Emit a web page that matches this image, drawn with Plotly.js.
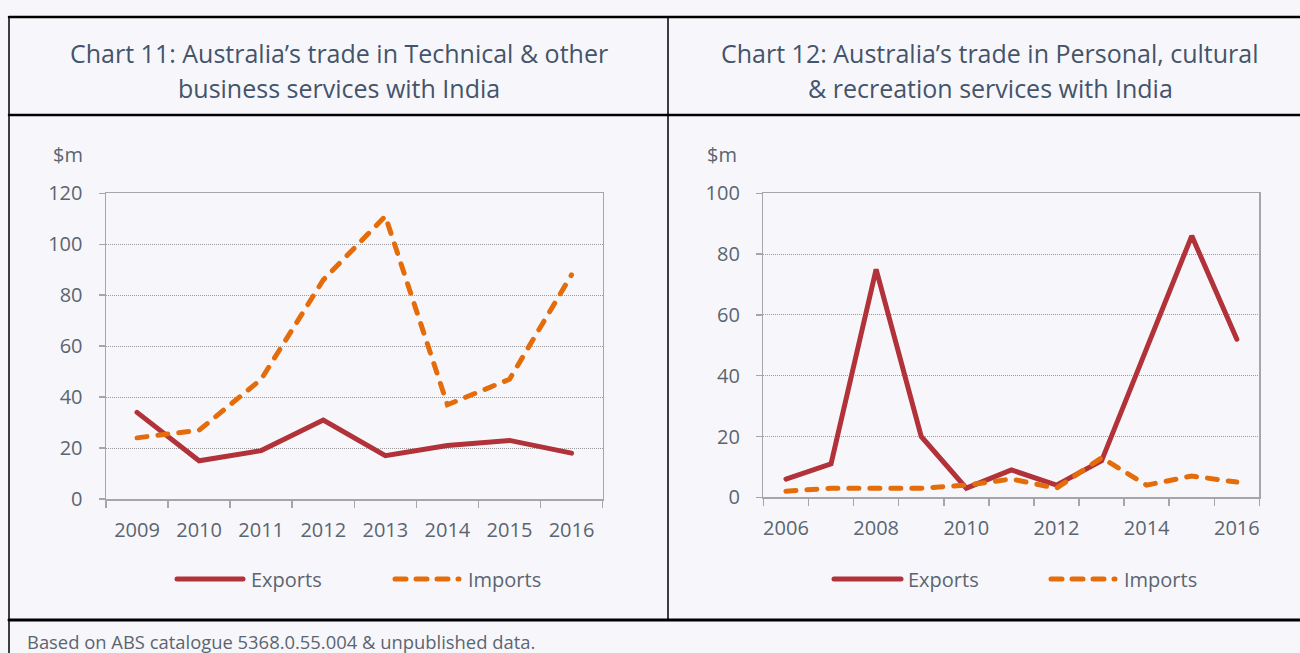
<!DOCTYPE html>
<html>
<head>
<meta charset="utf-8">
<script src="https://cdn.plot.ly/plotly-3.0.1.min.js"></script>
<style>
  html, body { margin: 0; padding: 0; background: #f7f7fb; }
  #chart { width: 1300px; height: 653px; }
  .scatterlayer .js-line { stroke-linecap: round !important; }
  .shapelayer path { stroke-linecap: round !important; }
</style>
</head>
<body>
<div id="chart"></div>
<script>
// ---- Data ----
const years11 = [2009, 2010, 2011, 2012, 2013, 2014, 2015, 2016];
const exports11 = [34, 15, 19, 31, 17, 21, 23, 18];
const imports11 = [24, 27, 47, 86, 111, 37, 47, 88];

const years12 = [2006, 2007, 2008, 2009, 2010, 2011, 2012, 2013, 2014, 2015, 2016];
const exports12 = [6, 11, 75, 20, 3, 9, 4, 12, 49, 86, 52];
const imports12 = [2, 3, 3, 3, 4, 6, 3, 13, 4, 7, 5];

const ticks11 = [2009, 2010, 2011, 2012, 2013, 2014, 2015, 2016];
const ticks12 = [2006, 2008, 2010, 2012, 2014, 2016];

const title11 = ["Chart 11: Australia\u2019s trade in Technical & other", "business services with India"];
const title12 = ["Chart 12: Australia\u2019s trade in Personal, cultural", "& recreation services with India"];
const seriesNames = ["Exports", "Imports"];
const footnote = "Based on ABS catalogue 5368.0.55.004 & unpublished data.";

// ---- Style ----
const W = 1300, H = 653;
const FONT = "Open Sans, sans-serif";
const TXT = "#5b6570";
const TITLE = "#44546a";
const RED = "#b13238";
const ORANGE = "#e46c0a";
const AXIS = "#a6a6a6";
const GRID = "#9a9a9a";

const px = x => x / W;
const py = y => 1 - y / H;

const traces = [
  { x: years11, y: exports11, name: seriesNames[0], xaxis: "x", yaxis: "y", mode: "lines",
    line: { color: RED, width: 5 } },
  { x: years11, y: imports11, name: seriesNames[1], xaxis: "x", yaxis: "y", mode: "lines",
    line: { color: ORANGE, width: 5, dash: "10px,11px" } },
  { x: years12, y: exports12, name: seriesNames[0], xaxis: "x2", yaxis: "y2", mode: "lines",
    line: { color: RED, width: 5 } },
  { x: years12, y: imports12, name: seriesNames[1], xaxis: "x2", yaxis: "y2", mode: "lines",
    line: { color: ORANGE, width: 5, dash: "10px,11px" } }
];

function xAxis(domain, range, tickvals, anchor) {
  return {
    domain: domain, range: range, anchor: anchor, type: "linear",
    tickmode: "array", tickvals: tickvals, ticktext: tickvals.map(String),
    ticks: "", showgrid: false, zeroline: false,
    showline: true, linecolor: AXIS, linewidth: 1.5, mirror: true,
    tickfont: { family: FONT, size: 20, color: TXT },
    ticklabelstandoff: 12,
    minor: { ticks: "outside", tick0: range[0], dtick: 1, ticklen: 7, tickwidth: 1.5, tickcolor: AXIS, showgrid: false },
    fixedrange: true
  };
}
function yAxis(domain, range, dtick, anchor) {
  return {
    domain: domain, range: range, anchor: anchor, dtick: dtick, tick0: 0,
    ticks: "outside", ticklen: 6, tickwidth: 1.5, tickcolor: AXIS,
    showgrid: true, gridcolor: GRID, gridwidth: 1, griddash: "1px,1px",
    zeroline: false, showline: true, linecolor: AXIS, linewidth: 1.5, mirror: true,
    tickfont: { family: FONT, size: 20, color: TXT },
    ticklabelstandoff: 12,
    fixedrange: true
  };
}

function border(x0, y0, x1, y1, w) {
  return { type: "line", xref: "paper", yref: "paper", x0: px(x0), y0: py(y0), x1: px(x1), y1: py(y1),
           line: { color: "#000000", width: w } };
}
function legendLine(x0, x1, y, color, dash) {
  return { type: "line", xref: "paper", yref: "paper", x0: px(x0), y0: py(y), x1: px(x1), y1: py(y),
           line: { color: color, width: 5, dash: dash || "solid" } };
}
function text(t, x, y, size, color, xanchor) {
  return { text: t, xref: "paper", yref: "paper", x: px(x), y: py(y), xanchor: xanchor || "center",
           yanchor: "middle", showarrow: false, font: { family: FONT, size: size, color: color } };
}

const shapes = [
  border(9, 17, 1310, 17, 2.5),
  border(9, 115, 1310, 115, 2.5),
  border(9, 620, 1310, 620, 3),
  border(9, 17, 9, 660, 1.5),
  border(668, 17, 668, 620, 1.5),
  // legends
  legendLine(177, 243, 579, RED),
  legendLine(395, 459, 579, ORANGE, "11px,10px"),
  legendLine(834, 901, 579, RED),
  legendLine(1051, 1115, 579, ORANGE, "11px,10px")
];

const annotations = [
  text(title11[0], 339, 53, 25, TITLE),
  text(title11[1], 339, 88, 25, TITLE),
  text(title12[0], 990, 53, 25, TITLE),
  text(title12[1], 990, 88, 25, TITLE),
  text("$m", 51, 155, 20, TXT, "left"),
  text("$m", 705, 155, 20, TXT, "left"),
  text(seriesNames[0], 249, 579, 20, TXT, "left"),
  text(seriesNames[1], 466, 579, 20, TXT, "left"),
  text(seriesNames[0], 906, 579, 20, TXT, "left"),
  text(seriesNames[1], 1122, 579, 20, TXT, "left"),
  text(footnote, 25, 641, 18.4, TXT, "left")
];

const layout = {
  width: W, height: H,
  margin: { l: 0, r: 0, t: 0, b: 0 },
  paper_bgcolor: "#f7f7fb", plot_bgcolor: "rgba(0,0,0,0)",
  showlegend: false,
  xaxis: xAxis([px(106), px(602.6)], [2008.5, 2016.5], ticks11, "y"),
  yaxis: yAxis([py(499), py(193.3)], [0, 120], 20, "x"),
  xaxis2: xAxis([px(763.4), px(1259.4)], [2005.5, 2016.5], ticks12, "y2"),
  yaxis2: yAxis([py(497.3), py(193.3)], [0, 100], 20, "x2"),
  shapes: shapes,
  annotations: annotations,
  font: { family: FONT, color: TXT }
};

Plotly.newPlot("chart", traces, layout, { displayModeBar: false, staticPlot: true });
</script>
</body>
</html>
